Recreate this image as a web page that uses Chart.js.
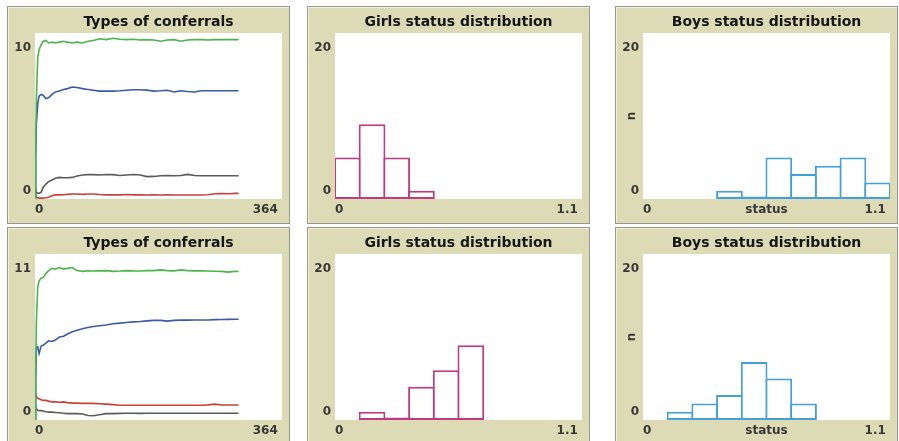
<!DOCTYPE html>
<html>
<head>
<meta charset="utf-8">
<script src="https://cdn.jsdelivr.net/npm/chart.js@4.4.1/dist/chart.umd.min.js"></script>
<style>
  body { margin: 0; background: #fff; width: 899px; height: 441px; overflow: hidden; position: relative; }
  .panel { position: absolute; width: 283px; height: 218px; box-sizing: border-box;
           border: 1px solid #979791; background: #dcdbb5; box-shadow: inset 1px 1px 0 #f1f0dc; }
  .panel canvas { position: absolute; left: 0; top: 0; }
</style>
</head>
<body>
<div class="panel" style="left:7px;top:6px"><canvas id="conferralsTop" width="281" height="216"></canvas></div>
<div class="panel" style="left:307px;top:6px"><canvas id="girlsTop" width="281" height="216"></canvas></div>
<div class="panel" style="left:615px;top:6px"><canvas id="boysTop" width="281" height="216"></canvas></div>
<div class="panel" style="left:7px;top:227px"><canvas id="conferralsBottom" width="281" height="216"></canvas></div>
<div class="panel" style="left:307px;top:227px"><canvas id="girlsBottom" width="281" height="216"></canvas></div>
<div class="panel" style="left:615px;top:227px"><canvas id="boysBottom" width="281" height="216"></canvas></div>
<script>
// ticks (days) at which the conferral plots are read
const days = [0, 1, 2, 4, 6, 9, 12, 16, 20, 25, 30, 36, 42, 48, 55, 62, 70, 78, 86, 95,
              105, 115, 125, 135, 145, 155, 165, 175, 185, 195, 205, 215, 225, 235, 245, 255,
              265, 275, 285, 295, 300];

// run 1
const greenTop = [0, 3.0, 6.0, 8.5, 9.0, 9.3, 9.5, 9.55, 9.4, 9.45, 9.4, 9.45, 9.5, 9.45, 9.4, 9.45, 9.4, 9.5, 9.55, 9.65,
                  9.6, 9.68, 9.62, 9.6, 9.62, 9.58, 9.6, 9.58, 9.5, 9.58, 9.6, 9.5, 9.58, 9.6, 9.6, 9.58,
                  9.6, 9.6, 9.6, 9.6, 9.6];
const blueTop = [0, 2.5, 4.5, 5.7, 6.2, 6.3, 6.25, 6.05, 6.1, 6.3, 6.45, 6.5, 6.6, 6.65, 6.75, 6.72, 6.65, 6.6, 6.55, 6.5,
                 6.5, 6.5, 6.52, 6.55, 6.58, 6.58, 6.56, 6.5, 6.52, 6.55, 6.45, 6.52, 6.48, 6.45, 6.52, 6.52,
                 6.52, 6.52, 6.52, 6.52, 6.52];
const grayTop = [0.65, 0.5, 0.4, 0.35, 0.35, 0.4, 0.7, 0.9, 1.05, 1.15, 1.25, 1.3, 1.28, 1.28, 1.3, 1.38, 1.45, 1.47, 1.47, 1.45,
                 1.48, 1.47, 1.42, 1.45, 1.48, 1.45, 1.35, 1.36, 1.4, 1.42, 1.4, 1.42, 1.48, 1.42, 1.4, 1.4,
                 1.4, 1.4, 1.4, 1.4, 1.4];
const redTop = [0.15, 0.15, 0.1, 0.08, 0.05, 0.05, 0.05, 0.08, 0.1, 0.2, 0.25, 0.25, 0.26, 0.28, 0.3, 0.3, 0.28, 0.3, 0.3, 0.27,
                0.25, 0.25, 0.25, 0.27, 0.25, 0.26, 0.24, 0.25, 0.24, 0.25, 0.24, 0.24, 0.24, 0.24, 0.24, 0.26,
                0.32, 0.33, 0.32, 0.34, 0.34];

// run 2
const greenBottom = [0, 3.0, 6.5, 8.8, 9.2, 9.4, 9.45, 9.7, 9.9, 10.05, 10.0, 10.1, 10.0, 10.05, 10.1, 9.9, 9.85, 9.88, 9.87, 9.88,
                     9.9, 9.85, 9.87, 9.9, 9.88, 9.87, 9.9, 9.9, 9.95, 9.9, 9.88, 9.95, 9.9, 9.88, 9.88, 9.87,
                     9.86, 9.85, 9.8, 9.86, 9.84];
const blueBottom = [0, 2.5, 4.8, 4.85, 4.4, 4.9, 4.95, 5.1, 5.25, 5.2, 5.3, 5.5, 5.55, 5.7, 5.85, 5.95, 6.05, 6.13, 6.2, 6.25,
                    6.3, 6.38, 6.42, 6.46, 6.5, 6.53, 6.57, 6.6, 6.6, 6.55, 6.6, 6.62, 6.62, 6.63, 6.63, 6.63,
                    6.65, 6.66, 6.67, 6.68, 6.68];
const grayBottom = [0.9, 0.85, 0.75, 0.65, 0.62, 0.62, 0.6, 0.55, 0.52, 0.52, 0.5, 0.48, 0.45, 0.42, 0.42, 0.42, 0.4, 0.3, 0.28, 0.35,
                    0.42, 0.42, 0.44, 0.45, 0.45, 0.44, 0.45, 0.45, 0.45, 0.45, 0.45, 0.45, 0.45, 0.45, 0.45, 0.45,
                    0.45, 0.45, 0.45, 0.45, 0.45];
const redBottom = [1.75, 1.7, 1.55, 1.45, 1.4, 1.35, 1.3, 1.3, 1.25, 1.2, 1.2, 1.18, 1.2, 1.15, 1.12, 1.12, 1.1, 1.1, 1.1, 1.08,
                   1.05, 1.02, 0.98, 0.98, 0.98, 0.98, 0.98, 0.98, 0.98, 0.98, 0.98, 0.98, 0.98, 0.98, 0.98, 1.0,
                   1.05, 0.99, 0.99, 0.99, 0.99];

// histograms: 10 bins over 0..1.1
const binWidth = 0.11;
const girlsTopCounts    = [5, 9, 5, 1, 0, 0, 0, 0, 0, 0];
const boysTopCounts     = [0, 0, 0, 1, 0, 5, 3, 4, 5, 2];
const girlsBottomCounts = [0, 1, 0, 4, 6, 9, 0, 0, 0, 0];
const boysBottomCounts  = [0, 1, 2, 3, 7, 5, 2, 0, 0, 0];

const FONT = 'DejaVu Sans';
const TICK_COLOR = '#383838';

const plotBackground = {
  id: 'plotBackground',
  beforeDraw(chart) {
    const { ctx, chartArea: a } = chart;
    ctx.save();
    ctx.fillStyle = '#ffffff';
    ctx.fillRect(a.left, a.top, a.right - a.left, a.bottom - a.top);
    ctx.restore();
  }
};

function axisX(max, title) {
  return {
    type: 'linear', min: 0, max: max, offset: false,
    grid: { display: false, drawTicks: false, lineWidth: 0 },
    border: { display: false },
    afterBuildTicks: s => { s.ticks = [{ value: s.min }, { value: s.max }]; },
    afterFit: s => { s.height = 24; s.paddingLeft = 0; s.paddingRight = 0; },
    ticks: {
      align: 'inner', padding: 4, maxRotation: 0, autoSkip: false, color: TICK_COLOR,
      font: { family: FONT, size: 12, weight: 'bold' },
      callback: (v, i) => i === 0 ? String(v) : v + ' '
    },
    title: {
      display: !!title, text: title || '', color: TICK_COLOR,
      font: { family: FONT, size: 12, weight: 'bold' },
      padding: { top: 0, bottom: 5.8 }
    }
  };
}

function axisY(max, title) {
  return {
    min: 0, max: max,
    grid: { display: false, drawTicks: false, lineWidth: 0 },
    border: { display: false },
    afterBuildTicks: s => { s.ticks = [{ value: s.min }, { value: s.max }]; },
    afterFit: s => { s.width = 27; s.paddingTop = 0; s.paddingBottom = 0; },
    ticks: {
      padding: 4, color: TICK_COLOR,
      // min label sits a little above the bottom, max label a little below the top
      font: c => ({ family: FONT, size: 12, weight: 'bold', lineHeight: c.index === 0 ? '17px' : '30px' }),
      callback: (v, i) => i === 0 ? [String(v), ''] : ['', String(v)]
    },
    title: {
      display: !!title, text: title || '', color: TICK_COLOR,
      font: { family: FONT, size: 12, weight: 'bold' },
      padding: { top: 8.8, bottom: 0 }
    }
  };
}

function baseOptions(titleText, x, y) {
  return {
    responsive: false,
    animation: false,
    layout: { padding: { left: 0, right: 7, top: 0, bottom: 0 }, autoPadding: false },
    plugins: {
      legend: { display: false },
      tooltip: { enabled: false },
      title: {
        display: true, text: titleText, fullSize: false, color: '#161616',
        font: { family: FONT, size: 14, weight: 'bold', lineHeight: 1.2 },
        padding: { top: 6.6, bottom: 2.6 }
      }
    },
    scales: { x: x, y: y }
  };
}

function lineSet(values, color) {
  return {
    data: days.map((d, i) => ({ x: d, y: values[i] })),
    borderColor: color, borderWidth: 1.6, pointRadius: 0, fill: false, tension: 0
  };
}

function conferralChart(id, yMax, green, blue, gray, red) {
  new Chart(id, {
    type: 'line',
    data: {
      datasets: [
        lineSet(green, '#4cb54a'),
        lineSet(blue, '#3a5aa8'),
        lineSet(gray, '#5a5a5a'),
        lineSet(red, '#c9403a')
      ]
    },
    options: baseOptions('Types of conferrals', axisX(364), axisY(yMax)),
    plugins: [plotBackground]
  });
}

// bins outside the observed range are not plotted, empty bins inside it show as a flat line
function binPoints(counts) {
  const first = counts.findIndex(c => c > 0);
  let last = counts.length - 1;
  while (last > 0 && counts[last] === 0) last--;
  return counts.map((c, i) => ({ x: (i + 0.5) * binWidth, y: (i >= first && i <= last) ? c : null }));
}

function statusChart(id, titleText, counts, color, withTitles) {
  new Chart(id, {
    type: 'bar',
    data: {
      datasets: [{
        data: binPoints(counts),
        backgroundColor: '#ffffff',
        borderColor: color,
        borderWidth: 2,
        borderSkipped: false,
        barPercentage: 1.08,
        categoryPercentage: 1,
        minBarLength: 2.5
      }]
    },
    options: baseOptions(titleText, axisX(1.1, withTitles ? 'status' : ''), axisY(20, withTitles ? 'n' : '')),
    plugins: [plotBackground]
  });
}

conferralChart('conferralsTop', 10, greenTop, blueTop, grayTop, redTop);
conferralChart('conferralsBottom', 11, greenBottom, blueBottom, grayBottom, redBottom);
statusChart('girlsTop', 'Girls status distribution', girlsTopCounts, '#bf3a80', false);
statusChart('girlsBottom', 'Girls status distribution', girlsBottomCounts, '#bf3a80', false);
statusChart('boysTop', 'Boys status distribution', boysTopCounts, '#43a0d8', true);
statusChart('boysBottom', 'Boys status distribution', boysBottomCounts, '#43a0d8', true);
</script>
</body>
</html>
